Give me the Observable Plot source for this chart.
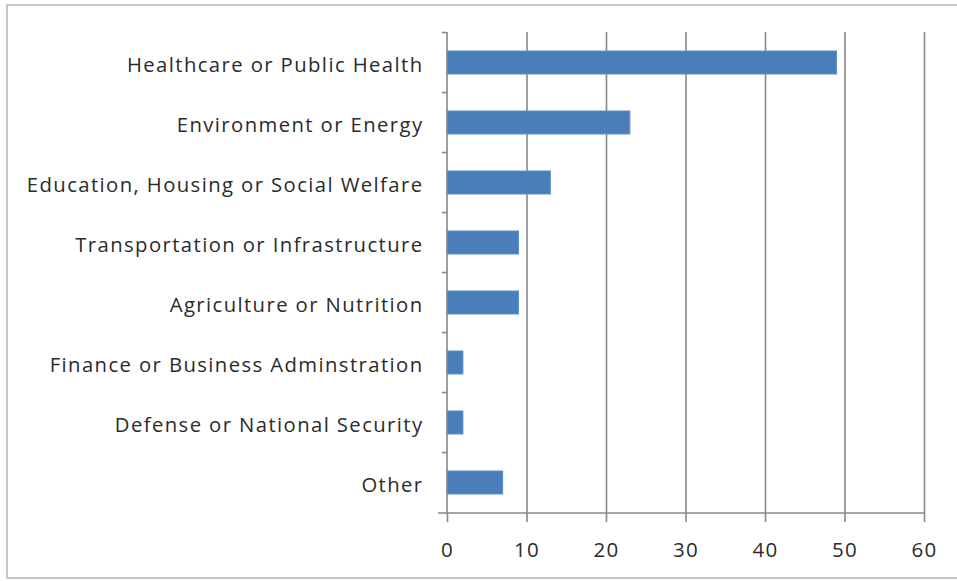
<!DOCTYPE html>
<html>
<head>
<meta charset="utf-8">
<script src="https://cdn.jsdelivr.net/npm/d3@7"></script>
<script src="https://cdn.jsdelivr.net/npm/@observablehq/plot@0.6"></script>
<style>
  html, body { margin: 0; padding: 0; background: #fff; overflow: hidden; }
  #wrap { position: relative; width: 957px; height: 581px; overflow: hidden; }
  #frame { position: absolute; left: 6px; top: 4px; width: 960px; height: 575px; border: 2px solid #c8c8c8; box-sizing: border-box; pointer-events: none; }
  #chart svg text { letter-spacing: 1.4px; }
</style>
</head>
<body>
<div id="wrap"><div id="frame"></div><div id="chart"></div></div>
<script>
const categories = [
  "Healthcare or Public Health",
  "Environment or Energy",
  "Education, Housing or Social Welfare",
  "Transportation or Infrastructure",
  "Agriculture or Nutrition",
  "Finance or Business Adminstration",
  "Defense or National Security",
  "Other"
];
const values = [49, 23, 13, 9, 9, 2, 2, 7];
const xTicks = [0, 10, 20, 30, 40, 50, 60];

const data = categories.map((c, i) => ({category: c, value: values[i]}));

(function () {
const font = "'Open Sans', sans-serif";
const plot = Plot.plot({
  width: 957,
  height: 581,
  marginLeft: 447,
  marginRight: 33,
  marginTop: 32,
  marginBottom: 68,
  style: {fontFamily: font, fontSize: "20px", color: "#404040", background: "transparent"},
  x: {domain: [0, 60], ticks: xTicks, label: null},
  y: {domain: categories, paddingInner: 0.615, paddingOuter: 0.3075, label: null},
  marks: [
    Plot.gridX(xTicks.filter(d => d > 0), {stroke: "#878787", strokeOpacity: 1, strokeWidth: 1.6}),
    Plot.barX(data, {x: "value", y: "category", fill: "#4A7EBB", stroke: "#5B8FCC", strokeWidth: 1}),
    Plot.axisX({ticks: xTicks, tickSize: 9, tickPadding: 20, stroke: "#878787", strokeWidth: 1.6, fill: "#2b2b2b", fontSize: 20.5, label: null}),
    Plot.axisY({tickSize: 0, tickPadding: 24, fill: "#2b2b2b", fontSize: 20.3, dy: 2, label: null})
  ]
});
document.getElementById("chart").appendChild(plot);

// axis lines and band-boundary ticks derived from the scales
const sx = plot.scale("x"), sy = plot.scale("y");
const svg = d3.select(plot);
const x0 = sx.apply(0), x1 = sx.apply(60);
const yTop = sy.range[0], yBottom = sy.range[1];
const g = svg.append("g").attr("stroke", "#878787").attr("stroke-width", 1.6);
g.append("line").attr("x1", x0).attr("x2", x0).attr("y1", yTop).attr("y2", yBottom);
g.append("line").attr("x1", x0 - 9).attr("x2", x1).attr("y1", yBottom).attr("y2", yBottom);
categories.forEach(c => {
  const yb = sy.apply(c) - sy.step * sy.paddingInner / 2;
  g.append("line").attr("x1", x0 - 5).attr("x2", x0).attr("y1", yb).attr("y2", yb);
});
})();
</script>
</body>
</html>
